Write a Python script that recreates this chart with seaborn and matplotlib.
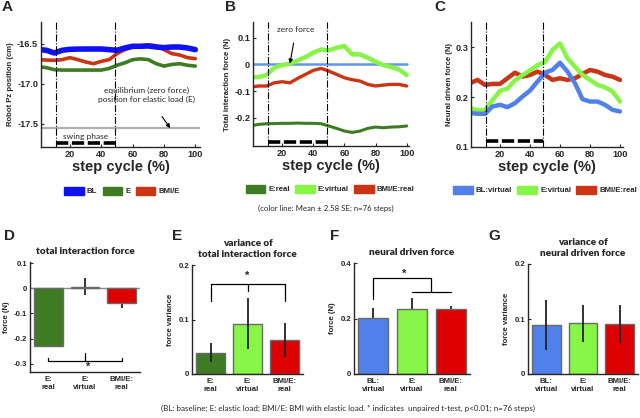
import matplotlib
matplotlib.use("Agg")
import matplotlib.pyplot as plt
from matplotlib.patches import Patch
import seaborn as sns

# ---- data -----------------------------------------------------------------
step = [1, 5, 10, 15, 20, 25, 30, 35, 40, 45, 50, 55, 60, 65, 70, 75, 80, 85, 90, 95, 100]

# A: robot Pz position (cm)
a_bl = [-16.575, -16.583, -16.617, -16.583, -16.571, -16.568, -16.567, -16.567, -16.567, -16.575, -16.583,
        -16.554, -16.533, -16.533, -16.529, -16.542, -16.55, -16.542, -16.542, -16.554, -16.575]
a_e = [-16.79, -16.80, -16.825, -16.83, -16.83, -16.83, -16.83, -16.83, -16.83, -16.81, -16.77,
       -16.74, -16.70, -16.69, -16.70, -16.75, -16.78, -16.76, -16.75, -16.77, -16.78]
a_bmie = [-16.70, -16.705, -16.708, -16.70, -16.675, -16.70, -16.729, -16.75, -16.721, -16.70, -16.625,
          -16.575, -16.542, -16.529, -16.517, -16.525, -16.575, -16.625, -16.642, -16.675, -16.6875]
a_equilibrium = -17.555

# B: total interaction force (N)
b_bl_zero = [0.0] * 21
b_e_real = [-0.229, -0.225, -0.2225, -0.222, -0.221, -0.221, -0.220, -0.221, -0.221, -0.2225, -0.231,
            -0.24, -0.25, -0.255, -0.25, -0.24, -0.235, -0.2375, -0.235, -0.234, -0.231]
b_e_virtual = [-0.0475, -0.0475, -0.04, -0.0125, -0.0025, 0.0025, 0.015, 0.0275, 0.044, 0.056, 0.0525,
               0.0625, 0.069, 0.0375, 0.0375, 0.025, 0.01, -0.0025, -0.01, -0.019, -0.04]
b_bmie_real = [-0.084, -0.081, -0.081, -0.069, -0.065, -0.069, -0.0525, -0.0375, -0.0225, -0.015, -0.025,
               -0.0375, -0.05, -0.0575, -0.0625, -0.075, -0.081, -0.0775, -0.075, -0.075, -0.081]

# C: neural driven force (N)
c_bl_virtual = [0.168, 0.1667, 0.1667, 0.1813, 0.1847, 0.18, 0.188, 0.2013, 0.2133, 0.2313, 0.2493,
                0.2547, 0.2693, 0.2513, 0.228, 0.196, 0.1913, 0.1913, 0.1847, 0.1747, 0.1713]
c_e_virtual = [0.1773, 0.174, 0.174, 0.194, 0.2127, 0.2173, 0.234, 0.244, 0.254, 0.264, 0.2707,
               0.2947, 0.308, 0.278, 0.2613, 0.2447, 0.2347, 0.2247, 0.22, 0.2113, 0.1913]
c_bmie_real = [0.2293, 0.2347, 0.2247, 0.2267, 0.2267, 0.238, 0.2493, 0.2413, 0.2447, 0.2513, 0.2447,
               0.2347, 0.238, 0.2347, 0.238, 0.2467, 0.2547, 0.2513, 0.2447, 0.2413, 0.2347]

swing_start, swing_end = 11, 49

# D-G: bar summaries
cats_e = ["E:\nreal", "E:\nvirtual", "BMI/E:\nreal"]
cats_bl = ["BL:\nvirtual", "E:\nvirtual", "BMI/E:\nreal"]
d_vals = [-0.228, 0.007, -0.057]
d_err = [0.006, 0.035, 0.022]
e_vals = [0.039, 0.092, 0.063]
e_err = [0.017, 0.047, 0.031]
f_vals = [0.2035, 0.233, 0.2355]
f_err = [0.036, 0.041, 0.010]
g_vals = [0.089, 0.092, 0.091]
g_err = [0.045, 0.034, 0.035]

# ---- style ----------------------------------------------------------------
BLUE_A = "#1010f5"
BLUE = "#4f80ec"
DKGREEN = "#3e7c24"
LTGREEN = "#86f545"
RED_LINE = "#cc3514"
RED_BAR = "#dd0000"

sns.set_style("ticks")
plt.rcParams["font.family"] = ["Liberation Sans", "DejaVu Sans"]
plt.rcParams["font.weight"] = "bold"
plt.rcParams["axes.linewidth"] = 1.0

fig = plt.figure(figsize=(6.4, 4.18), dpi=100)


def px_axes(l, t, r, b):
    return fig.add_axes([l / 640, 1 - b / 418, (r - l) / 640, (b - t) / 418])


def style_axes(ax, fs):
    sns.despine(ax=ax)
    ax.tick_params(length=2, direction="in", labelsize=fs, pad=2)
    for lab in ax.get_xticklabels() + ax.get_yticklabels():
        lab.set_fontweight("bold")


def cycle_axes(ax, ylabel):
    ax.axvline(swing_start, color="k", ls="-.", lw=0.8)
    ax.axvline(swing_end, color="k", ls="-.", lw=0.8)
    ax.set_xticks([20, 40, 60, 80, 100])
    ax.set_xlabel("step cycle (%)", fontsize=10.5, fontweight="bold", labelpad=1)
    ax.set_ylabel(ylabel, fontsize=5.6, fontweight="bold", labelpad=2)
    style_axes(ax, 6.6)


def swing_bar(ax, y):
    ax.plot([swing_start, swing_end], [y, y], color="k", lw=2.6, ls=(0, (3.4, 1.0)), solid_capstyle="butt")


def legend(handles, labels, x, y):
    fig.legend([Patch(color=c) for c in handles], labels, loc="center",
               bbox_to_anchor=(x / 640, 1 - y / 418), ncol=3, frameon=False,
               handlelength=2.5, handleheight=1.2, columnspacing=0.7,
               handletextpad=0.4, prop={"weight": "bold", "size": 5.6})


# ---- A --------------------------------------------------------------------
ax = px_axes(41, 22, 200, 147)
sns.lineplot(x=step, y=a_e, ax=ax, color=DKGREEN, lw=2.6)
sns.lineplot(x=step, y=a_bmie, ax=ax, color=RED_LINE, lw=2.6)
sns.lineplot(x=step, y=a_bl, ax=ax, color=BLUE_A, lw=4.0)
ax.axhline(a_equilibrium, color="#b0b0b0", lw=1.6)
ax.set_xlim(1.5, 103)
ax.set_ylim(-17.79, -16.23)
ax.set_yticks([-16.5, -17.0, -17.5])
ax.set_yticklabels(["-16.5", "-17.0", "-17.5"])
swing_bar(ax, -17.745)
ax.text(30, -17.655, "swing phase", ha="center", va="center", fontsize=6, family="Lato", fontweight="normal")
ax.annotate("equilibrium (zero force)\nposition for elastic load (E)", xy=(84, -17.555), xytext=(69, -17.14),
            ha="center", va="center", fontsize=6, family="Lato", fontweight="normal", linespacing=1.3,
            arrowprops=dict(arrowstyle="-|>", color="k", lw=0.8, shrinkA=9, shrinkB=0, mutation_scale=6))
cycle_axes(ax, "Robot Pz position (cm)")
fig.text(2 / 640, 1 - 7 / 418, "A", fontsize=11, fontweight="bold", va="center")
legend([BLUE_A, DKGREEN, RED_LINE], ["BL", "E", "BMI/E"], 122, 191)

# ---- B --------------------------------------------------------------------
ax = px_axes(253, 22, 409, 146)
sns.lineplot(x=step, y=b_bl_zero, ax=ax, color="#6495ed", lw=1.8)
sns.lineplot(x=step, y=b_e_real, ax=ax, color=DKGREEN, lw=2.2)
sns.lineplot(x=step, y=b_bmie_real, ax=ax, color=RED_LINE, lw=2.4)
sns.lineplot(x=step, y=b_e_virtual, ax=ax, color=LTGREEN, lw=3.2)
ax.set_xlim(1.3, 101.5)
ax.set_ylim(-0.306, 0.159)
ax.set_yticks([0.1, 0, -0.1, -0.2])
ax.set_yticklabels(["0.1", "0", "-0.1", "-0.2"])
swing_bar(ax, -0.29)
ax.annotate("zero force", xy=(25, 0.003), xytext=(29, 0.131), ha="center", va="center",
            fontsize=6, family="Lato", fontweight="normal",
            arrowprops=dict(arrowstyle="-|>", color="k", lw=0.8, shrinkA=5, shrinkB=0, mutation_scale=6))
cycle_axes(ax, "Total interaction force (N)")
fig.text(225 / 640, 1 - 7 / 418, "B", fontsize=11, fontweight="bold", va="center")
legend([DKGREEN, LTGREEN, RED_LINE], ["E:real", "E:virtual", "BMI/E:real"], 330, 189)
fig.text(326 / 640, 1 - 208 / 418, "(color line: Mean \u00b1 2.58 SE; n=76 steps)", ha="center", va="center",
         fontsize=5.6, family="Lato", fontweight="normal")

# ---- C --------------------------------------------------------------------
ax = px_axes(471, 22, 623, 147)
sns.lineplot(x=step, y=c_bmie_real, ax=ax, color=RED_LINE, lw=3.2)
sns.lineplot(x=step, y=c_e_virtual, ax=ax, color=LTGREEN, lw=3.2)
sns.lineplot(x=step, y=c_bl_virtual, ax=ax, color=BLUE, lw=3.2)
ax.set_xlim(0.7, 102)
ax.set_ylim(0.1, 0.351)
ax.set_yticks([0.1, 0.2, 0.3])
swing_bar(ax, 0.113)
cycle_axes(ax, "Neural driven force (N)")
fig.text(434 / 640, 1 - 7 / 418, "C", fontsize=11, fontweight="bold", va="center")
legend([BLUE, LTGREEN, RED_LINE], ["BL:virtual", "E:virtual", "BMI/E:real"], 545, 190)


# ---- bars -----------------------------------------------------------------
def bar_panel(box, cats, vals, errs, colors, title, ylabel, ylim, yticks, err_front):
    ax = px_axes(*box)
    sns.barplot(x=cats, y=vals, hue=cats, palette=colors, legend=False, ax=ax, width=0.78, saturation=1,
                edgecolor="#6a6a6a", linewidth=1.0, errorbar=None, zorder=2)
    ax.errorbar(range(len(vals)), vals, yerr=errs, fmt="none", ecolor="#222222", elinewidth=1.3,
                capsize=0, zorder=3 if err_front else 1)
    ax.set_xlim(-0.5, 2.5)
    ax.set_ylim(*ylim)
    ax.set_yticks(yticks)
    ax.set_yticklabels([("%g" % t) for t in yticks])
    ax.set_ylabel(ylabel, fontsize=5.6, fontweight="bold", labelpad=3)
    ax.set_title(title, fontsize=7.2, family="Lato", fontweight="heavy", pad=6, linespacing=1.2)
    style_axes(ax, 5.6)
    ax.tick_params(axis="x", length=0, pad=3)
    return ax


ax = bar_panel((30, 262, 140, 372), cats_e, d_vals, d_err, [DKGREEN, LTGREEN, RED_BAR],
               "total interaction force", "force (N)", (-0.333, 0.105), [0.1, 0, -0.1, -0.2, -0.3], False)
ax.axhline(0, color="#8a8a8a", lw=1.0, zorder=1.5)
ax.plot([0, 0, 2, 2], [-0.276, -0.289, -0.289, -0.276], color="k", lw=0.9)
ax.plot([1, 1], [-0.289, -0.256], color="k", lw=0.9)
ax.text(1.1, -0.312, "*", ha="center", va="center", fontsize=8)
fig.text(4 / 640, 1 - 236 / 418, "D", fontsize=11, fontweight="bold", va="center")

ax = bar_panel((192, 265, 303, 374), cats_e, e_vals, e_err, [DKGREEN, LTGREEN, RED_BAR],
               "variance of\ntotal interaction force", "force variance", (0, 0.2), [0, 0.1, 0.2], True)
ax.plot([0, 0, 2, 2], [0.134, 0.165, 0.165, 0.134], color="k", lw=0.9)
ax.plot([1, 1], [0.165, 0.152], color="k", lw=0.9)
ax.text(1.0, 0.18, "*", ha="center", va="center", fontsize=8)
fig.text(172 / 640, 1 - 236 / 418, "E", fontsize=11, fontweight="bold", va="center")

ax = bar_panel((354, 263, 470, 374), cats_bl, f_vals, f_err, [BLUE, LTGREEN, RED_BAR],
               "neural driven force", "force (N)", (0, 0.4), [0, 0.2, 0.4], False)
ax.plot([0, 0, 1.5, 1.5], [0.271, 0.345, 0.345, 0.295], color="k", lw=0.9)
ax.plot([1, 2], [0.295, 0.295], color="k", lw=0.9)
ax.text(0.8, 0.362, "*", ha="center", va="center", fontsize=8)
fig.text(330 / 640, 1 - 236 / 418, "F", fontsize=11, fontweight="bold", va="center")

ax = bar_panel((528, 264, 638, 374), cats_bl, g_vals, g_err, [BLUE, LTGREEN, RED_BAR],
               "variance of\nneural driven force", "force variance", (0, 0.2), [0, 0.1, 0.2], True)
fig.text(488 / 640, 1 - 236 / 418, "G", fontsize=11, fontweight="bold", va="center")

fig.text(348 / 640, 1 - 408 / 418,
         "(BL: baseline; E: elastic load; BMI/E: BMI with elastic load. * indicates  unpaired t-test, p<0.01; n=76 steps)",
         ha="center", va="center", fontsize=5.8, family="Lato", fontweight="normal")

fig.savefig("out.png", dpi=100)
